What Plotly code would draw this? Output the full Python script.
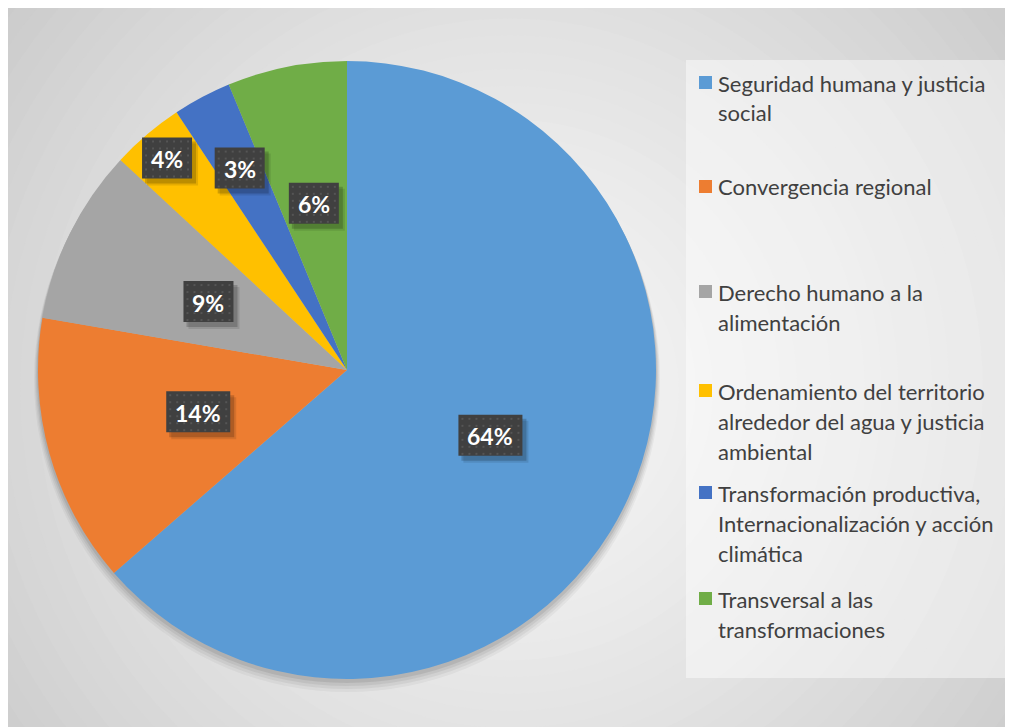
import math
import plotly.graph_objects as go

# ---- data ----
labels = [
    "Seguridad humana y justicia social",
    "Convergencia regional",
    "Derecho humano a la alimentación",
    "Ordenamiento del territorio alrededor del agua y justicia ambiental",
    "Transformación productiva, Internacionalización y acción climática",
    "Transversal a las transformaciones",
]
values = [63.6, 14.1, 9.2, 3.8, 3.05, 6.25]
colors = ["#5B9BD5", "#ED7D31", "#A5A5A5", "#FFC000", "#4472C4", "#70AD47"]
legend_lines = [
    ["Seguridad humana y justicia", "social"],
    ["Convergencia regional"],
    ["Derecho humano a la", "alimentación"],
    ["Ordenamiento del territorio", "alrededor del agua y justicia", "ambiental"],
    ["Transformación productiva,", "Internacionalización y acción", "climática"],
    ["Transversal a las", "transformaciones"],
]

# ---- layout constants (pixels, in page coordinates) ----
OFF = 8            # body margin of the html page
W, H = 1013 - OFF, 727 - OFF
CX, CY, R = 347, 370, 309
label_radius = [0.51, 0.50, 0.50, 0.90, 0.74, 0.55]
legend_y = [83, 187, 292, 391, 493, 599]
LINE_H = 30
FONT = "Lato, 'Open Sans', sans-serif"


def px(x):
    return (x - OFF) / W


def py(y):
    return 1 - (y - OFF) / H


def rect(x0, y0, x1, y1, fill, layer="above"):
    return dict(type="rect", xref="paper", yref="paper",
                x0=px(x0), x1=px(x1), y0=py(y1), y1=py(y0),
                fillcolor=fill, line=dict(width=0), layer=layer)


def circ(cx, cy, r, fill):
    return dict(type="circle", xref="paper", yref="paper",
                x0=px(cx - r), x1=px(cx + r), y0=py(cy + r), y1=py(cy - r),
                fillcolor=fill, line=dict(width=0), layer="below")


shapes = []
# radial gradient background
N = 45
RMAX = 760
GX, GY = 510, 390
c_in, c_out = 245, 192
for k in range(N):
    rr = RMAX * (1 - k / N)
    t = rr / RMAX
    v = int(round(c_in + (c_out - c_in) * (t ** 1.4)))
    shapes.append(circ(GX, GY, rr, f"rgb({v},{v},{v})"))
# legend panel
shapes.append(rect(686, 60, 1010, 678, "rgba(255,255,255,0.45)", layer="below"))
# pie shadow (mostly below the pie)
for extra, dy, op in [(4, 9, 0.04), (3, 7, 0.05), (2, 5, 0.06), (1, 3, 0.08)]:
    shapes.append(circ(CX, CY + dy, R + extra, f"rgba(0,0,0,{op})"))

fig = go.Figure()
fig.add_trace(go.Pie(
    labels=labels, values=values, sort=False, direction="clockwise", rotation=0,
    marker=dict(colors=colors, line=dict(width=0)),
    textinfo="none", hoverinfo="label+percent", showlegend=False,
    domain=dict(x=[px(CX - R), px(CX + R)], y=[py(CY + R), py(CY - R)]),
))

annotations = []
total = sum(values)
cum = 0.0
for i, v in enumerate(values):
    mid = (cum + v / 2) / total * 2 * math.pi
    cum += v
    rr = R * label_radius[i]
    x = CX + rr * math.sin(mid)
    y = CY - rr * math.cos(mid)
    txt = f"{round(v / total * 100):d}%"
    bw = 50 if len(txt) == 2 else 64
    bh = 41
    x0, y0 = x - bw / 2, y - bh / 2
    # shadow
    shapes.append(rect(x0 + 5, y0 + 6, x0 + bw + 6, y0 + bh + 7, "rgba(0,0,0,0.10)"))
    shapes.append(rect(x0 + 3, y0 + 4, x0 + bw + 4, y0 + bh + 5, "rgba(0,0,0,0.18)"))
    # box
    shapes.append(rect(x0, y0, x0 + bw, y0 + bh, "#404040"))
    # dotted texture
    yy = y0 + 3
    while yy + 2 <= y0 + bh:
        xx = x0 + 3
        while xx + 2 <= x0 + bw:
            shapes.append(rect(xx, yy, xx + 2, yy + 2, "#555555"))
            xx += 7
        yy += 7
    annotations.append(dict(x=px(x), y=py(y + 1), xref="paper", yref="paper",
                            xanchor="center", yanchor="middle",
                            text=f"<b>{txt}</b>", showarrow=False,
                            font=dict(family=FONT, size=23, color="white")))

# legend
for i, lines in enumerate(legend_lines):
    y0 = legend_y[i]
    shapes.append(rect(699, y0 - 7, 712, y0 + 6, colors[i]))
    for j, ln in enumerate(lines):
        annotations.append(dict(x=px(716), y=py(y0 + j * LINE_H), xref="paper", yref="paper",
                                xanchor="left", yanchor="middle", text=ln, showarrow=False,
                                font=dict(family=FONT, size=22, color="#404040")))

fig.update_layout(
    width=W, height=H, margin=dict(l=0, r=0, t=0, b=0),
    paper_bgcolor="white", plot_bgcolor="white",
    shapes=shapes, annotations=annotations,
)

fig.write_html("out.html")
